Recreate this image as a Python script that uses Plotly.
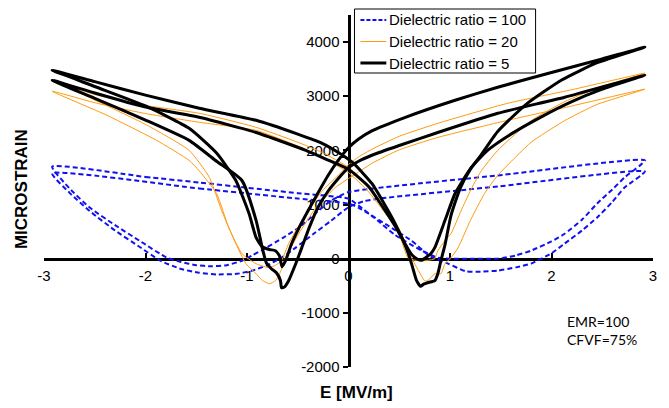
import plotly.graph_objects as go

# ---------------- data ----------------
x_ticks = [-3, -2, -1, 0, 1, 2, 3]
y_ticks = [-2000, -1000, 0, 1000, 2000, 3000, 4000]

# Dielectric ratio = 100 (blue, dashed) - two loops
blue_a_x = [-2.92, -2.0, -1.47, -1.0, -0.5, 0.0, 0.1, 0.29, 0.45, 0.56, 0.72, 0.88, 1.0, 1.2, 1.47, 1.65, 1.8, 2.0, 2.13, 2.3, 2.45, 2.6, 2.72, 2.92,
            1.47, 0.5, 0.0, -0.17, -0.3, -0.49, -0.65, -0.81, -0.95, -1.05, -1.2, -1.35, -1.5, -1.65, -1.79, -2.06, -2.3, -2.55, -2.75, -2.92]
blue_a_y = [1700, 1510, 1407, 1310, 1210, 1110, 980, 700, 450, 320, 150, 18, 0, 0, 0, 60, 150, 320, 460, 720, 1020, 1280, 1500, 1815,
            1537, 1350, 1230, 1074, 880, 574, 380, 204, 60, -37, -120, -140, -120, -60, 18, 333, 620, 944, 1300, 1700]
blue_b_x = [-2.92, -1.47, -0.5, 0.0, 0.1, 0.2, 0.39, 0.62, 0.81, 0.98, 1.15, 1.3, 1.47, 1.65, 1.8, 2.0, 2.13, 2.3, 2.45, 2.6, 2.72, 2.92,
            1.47, 0.3, 0.15, 0.0, -0.17, -0.35, -0.52, -0.65, -0.8, -0.95, -1.1, -1.3, -1.47, -1.65, -1.85, -2.06, -2.3, -2.55, -2.75, -2.92]
blue_b_y = [1575, 1296, 1110, 1018, 940, 830, 610, 333, 37, -90, -230, -240, -220, -160, -90, 100, 280, 520, 760, 1050, 1315, 1611,
            1333, 1110, 1060, 950, 704, 450, 204, 30, -120, -220, -280, -290, -260, -190, -40, 220, 520, 880, 1220, 1575]

# Dielectric ratio = 20 (orange, thin) - two loops
orange_a_x = [-2.92, -2.5, -2.0, -1.47, -0.91, -0.5, -0.26, 0.0, 0.2, 0.35, 0.49, 0.56, 0.62, 0.69, 0.75, 0.78, 0.85, 0.91, 0.95, 1.01, 1.08, 1.2, 1.34, 1.47, 1.8, 2.13, 2.45, 2.92,
              2.2, 1.57, 0.88, 0.5, 0.23, 0.1, 0.0, -0.13, -0.32, -0.49, -0.62, -0.66, -0.72, -0.78, -0.85, -0.91, -1.01, -1.11, -1.25, -1.37, -1.57, -2.0, -2.5, -2.92]
orange_a_y = [3296, 3030, 2830, 2685, 2426, 2150, 1963, 1685, 1300, 920, 574, 280, 18, -222, -407, -407, -278, -278, -93, 18, 204, 704, 1204, 1537, 2150, 2550, 2850, 3130,
              2820, 2556, 2240, 2010, 1760, 1600, 1480, 1315, 944, 463, 18, -200, -407, -463, -400, -278, -93, 278, 889, 1500, 2000, 2480, 2930, 3296]
orange_b_x = [-2.92, -2.5, -2.0, -1.47, -0.91, -0.5, -0.26, 0.0, 0.2, 0.35, 0.49, 0.59, 0.67, 0.75, 0.85, 0.88, 0.95, 1.01, 1.11, 1.2, 1.3, 1.47, 1.8, 2.13, 2.45, 2.92,
              2.2, 1.57, 0.88, 0.5, 0.23, 0.1, 0.0, -0.1, -0.26, -0.46, -0.59, -0.66, -0.72, -0.78, -0.91, -1.05, -1.18, -1.3, -1.47, -1.57, -1.89, -2.38, -2.92]
orange_b_y = [3093, 2880, 2680, 2519, 2370, 2080, 1870, 1590, 1230, 870, 500, 0, -30, -37, 0, 148, 333, 463, 889, 1250, 1600, 2000, 2550, 2900, 3150, 3426,
              3120, 2870, 2500, 2260, 2020, 1880, 1740, 1540, 1250, 704, 278, -37, -120, -167, -93, 93, 574, 1204, 1620, 1815, 2185, 2648, 3093]

# Dielectric ratio = 5 (black, thick) - two loops
black_a_x = [-2.92, -2.5, -2.0, -1.47, -0.91, -0.5, -0.26, -0.1, 0.05, 0.23, 0.35, 0.46, 0.54, 0.59, 0.63, 0.67, 0.71, 0.74, 0.78, 0.85, 0.88, 0.91, 0.95, 1.01, 1.1, 1.2, 1.3, 1.47, 1.75, 2.1, 2.45, 2.92,
             2.5, 2.0, 1.47, 1.05, 0.56, 0.23, 0.1, 0.0, -0.1, -0.2, -0.32, -0.4, -0.49, -0.56, -0.62, -0.655, -0.68, -0.72, -0.78, -0.85, -0.91, -0.98, -1.11, -1.3, -1.57, -2.0, -2.5, -2.92]
black_a_y = [3481, 3270, 3020, 2778, 2556, 2300, 2130, 1960, 1760, 1389, 1020, 648, 330, 93, -150, -400, -510, -470, -444, -407, -278, -37, 250, 800, 1300, 1650, 1900, 2350, 2850, 3300, 3620, 3907,
             3690, 3437, 3167, 2926, 2611, 2360, 2210, 2050, 1820, 1540, 1150, 880, 560, 280, -37, -150, 50, 148, 170, 220, 389, 833, 1444, 1950, 2407, 2820, 3180, 3481]
black_b_x = [-2.92, -2.5, -2.0, -1.47, -0.91, -0.42, -0.2, 0.0, 0.2, 0.35, 0.46, 0.55, 0.62, 0.68, 0.72, 0.76, 0.81, 0.85, 0.95, 1.05, 1.21, 1.37, 1.6, 1.9, 2.2, 2.5, 2.92,
             2.13, 1.47, 0.88, 0.5, 0.23, 0.1, 0.0, -0.1, -0.2, -0.3, -0.39, -0.46, -0.52, -0.59, -0.63, -0.66, -0.67, -0.71, -0.76, -0.81, -0.85, -0.91, -1.05, -1.3, -1.57, -2.0, -2.5, -2.92]
black_b_y = [3296, 3060, 2800, 2611, 2330, 2000, 1820, 1650, 1330, 920, 600, 300, 80, -10, -30, 20, 93, 204, 704, 1204, 1685, 2000, 2300, 2620, 2900, 3130, 3389,
             2981, 2685, 2330, 2090, 1910, 1800, 1680, 1480, 1250, 950, 560, 204, -93, -407, -520, -537, -407, -259, -185, -74, 204, 704, 1444, 1800, 2185, 2560, 2960, 3296]

series_names = ["Dielectric ratio = 100", "Dielectric ratio = 20", "Dielectric ratio = 5"]
series_colors = ["#1010F0", "#FF9A10", "black"]
series_widths = [2, 1, 3]
series_dashes = ["5px,3px", "solid", "solid"]
note_lines = ["EMR=100", "CFVF=75%"]


def join(a, b):
    return list(a) + [None] + list(b)


FONT = "Liberation Sans, Arial, sans-serif"
loops = [
    (join(blue_a_x, blue_b_x), join(blue_a_y, blue_b_y)),
    (join(orange_a_x, orange_b_x), join(orange_a_y, orange_b_y)),
    (join(black_a_x, black_b_x), join(black_a_y, black_b_y)),
]

fig = go.Figure()
for (xs, ys), name, col, w, d in zip(loops, series_names, series_colors, series_widths, series_dashes):
    fig.add_trace(go.Scatter(x=xs, y=ys, mode="lines", name=name, connectgaps=False, showlegend=False,
                             line=dict(color=col, width=w, dash=d, shape="spline", smoothing=0.5)))

# plot-area pixel helpers (for the legend box and labels)
L, R, T, B, W, H = 44, 13, 15, 41, 669, 408
PW, PH = W - L - R, H - T - B


def px(x):
    return (x - L) / PW


def py(y):
    return (H - B - y) / PH


shapes = [dict(type="rect", xref="paper", yref="paper", x0=px(356), x1=px(538), y0=py(73), y1=py(9),
               line=dict(color="black", width=1), fillcolor="white", layer="above")]
annotations = []
for i, (name, col, w, d) in enumerate(zip(series_names, series_colors, series_widths, series_dashes)):
    yc = 20 + i * 21.5
    shapes.append(dict(type="line", xref="paper", yref="paper", x0=px(362), x1=px(388), y0=py(yc), y1=py(yc),
                       line=dict(color=col, width=w, dash="4px,2px" if d != "solid" else "solid"), layer="above"))
    annotations.append(dict(text=name, xref="paper", yref="paper", x=px(389), y=py(yc), showarrow=False,
                            xanchor="left", yanchor="middle", font=dict(family=FONT, size=15, color="black")))

annotations += [
    dict(text="<b>MICROSTRAIN</b>", xref="paper", yref="paper", x=px(22), y=py(189),
         textangle=-90, showarrow=False, font=dict(family=FONT, size=17, color="black"),
         xanchor="center", yanchor="middle"),
    dict(text="<b>E [MV/m]</b>", xref="paper", yref="paper", x=px(358), y=py(392),
         showarrow=False, font=dict(family=FONT, size=17, color="black"),
         xanchor="center", yanchor="middle"),
    dict(text="<br>".join(note_lines), xref="paper", yref="paper", x=px(568), y=py(330),
         showarrow=False, align="left", font=dict(family="Lato, Carlito, sans-serif", size=14, color="black"),
         xanchor="left", yanchor="middle"),
]

y0, y1 = -2000, 4500
fig.update_layout(
    width=W, height=H,
    margin=dict(l=L, r=R, t=T, b=B),
    paper_bgcolor="white", plot_bgcolor="white",
    font=dict(family=FONT, size=15, color="black"),
    showlegend=False,
    xaxis=dict(range=[-3, 3], anchor="free", position=(0 - y0) / (y1 - y0),
               showline=True, linewidth=3, linecolor="black",
               ticks="inside", ticklen=5, tickwidth=2, tickcolor="black",
               tickvals=x_ticks, ticktext=[str(v) for v in x_ticks],
               showgrid=False, zeroline=False, layer="below traces",
               tickfont=dict(family=FONT, size=15, color="black"), ticklabelstandoff=2),
    yaxis=dict(range=[y0, y1], anchor="free", position=0.5,
               showline=True, linewidth=3, linecolor="black",
               ticks="outside", ticklen=5, tickwidth=2, tickcolor="black",
               tickvals=y_ticks, ticktext=[str(v) for v in y_ticks],
               showgrid=False, zeroline=False, layer="below traces",
               tickfont=dict(family=FONT, size=15, color="black")),
    shapes=shapes,
    annotations=annotations,
)

fig.write_html("out.html")
